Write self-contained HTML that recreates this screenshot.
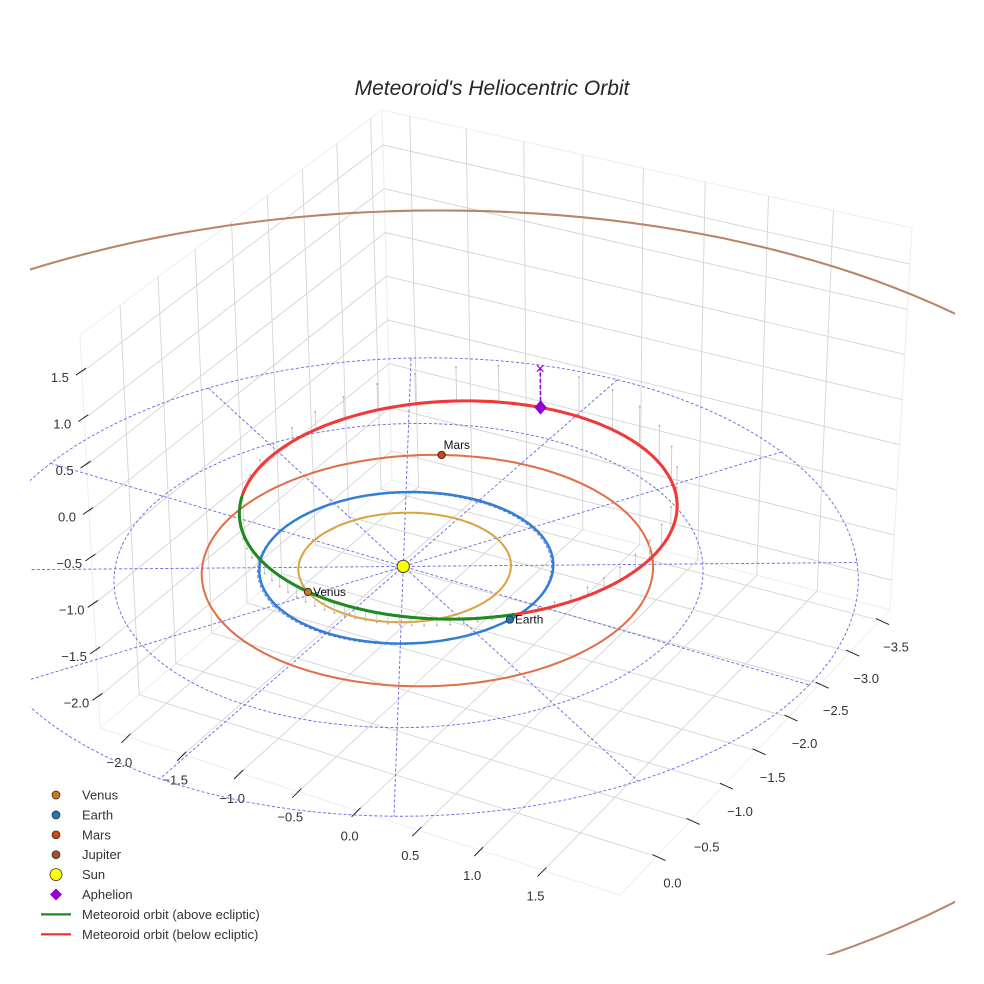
<!DOCTYPE html>
<html><head><meta charset="utf-8"><style>
html,body{margin:0;padding:0;background:#fff;width:984px;height:984px;overflow:hidden;}
svg{display:block;font-family:"Liberation Sans",sans-serif;}
</style></head><body>
<svg id="chart" width="984" height="984" viewBox="0 0 984 984">
<defs><clipPath id="clip"><rect x="30" y="0" width="925" height="955"/></clipPath></defs>
<text x="492" y="95" text-anchor="middle" font-size="21" font-style="italic" fill="#262626">Meteoroid's Heliocentric Orbit</text>
<g id="grid"></g>
<g id="ticks"></g>
<g clip-path="url(#clip)"><g id="plot" transform="matrix(1.028 0 0 1.027 2 -5.3)"></g></g>
<g id="legend"></g>
</svg>
<script>
// ---- axis data ----
const xTicks = [-2.0,-1.5,-1.0,-0.5,0.0,0.5,1.0,1.5];
const yTicks = [-3.5,-3.0,-2.5,-2.0,-1.5,-1.0,-0.5,0.0];
const zTicks = [-2.0,-1.5,-1.0,-0.5,0.0,0.5,1.0,1.5];
const xLim = [-2.25, 2.09];
const yLim = [-3.67, 0.52];
const zLim = [-2.33, 1.90];
// ---- planet data ----
const planetNames = ["Venus","Earth","Mars","Jupiter"];
const planetA = [0.723, 1.0, 1.53, 5.3];
const planetE = [0.0068, 0.0167, 0.0934, 0.0484];
const planetPeriLon = [131, 103, 145, 14.7];
const planetLon = [123, 14, 249, null];
const planetOrbitColors = ["#d9a441","#2f7fd6","#e0704a","#b9846a"];
const planetMarkerColors = ["#c9791c","#1f77b4","#cc4a10","#a0522d"];
// ---- meteoroid orbit elements ----
const metA = [1.86];
const metE = [0.6];
const metInc = [8.7];
const metNode = [10];
const metArgPeri = [69];
// ---- ecliptic reference grid ----
const ringRadii = [1, 2, 3];
const spokeAngles = [0,30,60,90,120,150];

function solveH(src, dst){
  const A=[],b=[];
  for(let i=0;i<4;i++){const [u,v]=src[i],[X,Y]=dst[i];
    A.push([u,v,1,0,0,0,-u*X,-v*X]);b.push(X);
    A.push([0,0,0,u,v,1,-u*Y,-v*Y]);b.push(Y);}
  const n=8;
  for(let c=0;c<n;c++){let p=c;for(let r=c+1;r<n;r++)if(Math.abs(A[r][c])>Math.abs(A[p][c]))p=r;
    [A[c],A[p]]=[A[p],A[c]];[b[c],b[p]]=[b[p],b[c]];
    for(let r=0;r<n;r++){if(r===c)continue;const f=A[r][c]/A[c][c];for(let k=c;k<n;k++)A[r][k]-=f*A[c][k];b[r]-=f*b[c];}}
  const h=b.map((v,i)=>v/A[i][i]);
  return (u,v)=>{const d=h[6]*u+h[7]*v+1;return [(h[0]*u+h[1]*v+h[2])/d,(h[3]*u+h[4]*v+h[5])/d];};
}
const uv=[[0,0],[0,1],[1,1],[1,0]];
const Hf=solveH(uv,[[392,480],[100,728],[620,895],[890,610]]);
const Ht=solveH(uv,[[382,110],[80,335],[623,490],[912,228]]);
function P(x,y,z){
  const u=(x-xLim[0])/(xLim[1]-xLim[0]), v=(y-yLim[0])/(yLim[1]-yLim[0]), w=(z-zLim[0])/(zLim[1]-zLim[0]);
  const f=Hf(u,v), t=Ht(u,v);
  return [f[0]+(t[0]-f[0])*w, f[1]+(t[1]-f[1])*w];
}
const NS="http://www.w3.org/2000/svg";
function mk(tag,attrs,parent){const e=document.createElementNS(NS,tag);for(const k in attrs)e.setAttribute(k,attrs[k]);parent.appendChild(e);return e;}
function pathD(pts){return pts.map((p,i)=>(i?"L":"M")+p[0].toFixed(1)+" "+p[1].toFixed(1)).join("");}
const grid=document.getElementById('grid'),ticks=document.getElementById('ticks'),plot=document.getElementById('plot'),legend=document.getElementById('legend');
const gridStyle={stroke:"#d4d4d4","stroke-width":0.9,fill:"none"};

const [x0,x1]=xLim,[y0,y1]=yLim,[z0,z1]=zLim;
let el;
el=mk('path',Object.assign({d:pathD([P(x0,y0,z0),P(x0,y1,z0),P(x0,y1,z1),P(x0,y0,z1)])+"Z"},{fill:"#fff",stroke:"#eee"}),grid);

el=mk('path',Object.assign({d:pathD([P(x0,y0,z0),P(x1,y0,z0),P(x1,y0,z1),P(x0,y0,z1)])+"Z"},{fill:"#fff",stroke:"#eee"}),grid);

el=mk('path',Object.assign({d:pathD([P(x0,y0,z0),P(x1,y0,z0),P(x1,y1,z0),P(x0,y1,z0)])+"Z"},{fill:"#fff",stroke:"#eee"}),grid);

xTicks.forEach(x=>{
  el=mk('path',Object.assign({d:pathD([P(x,y1,z0),P(x,y0,z0),P(x,y0,z1)])},gridStyle),grid);
  
});
yTicks.forEach(y=>{
  el=mk('path',Object.assign({d:pathD([P(x1,y,z0),P(x0,y,z0),P(x0,y,z1)])},gridStyle),grid);
  
});
zTicks.forEach(z=>{
  el=mk('path',Object.assign({d:pathD([P(x0,y1,z),P(x0,y0,z),P(x1,y0,z)])},gridStyle),grid);
  
});
function fmt(v){return (v<0?"\u2212":"")+Math.abs(v).toFixed(1);}
xTicks.forEach(x=>{const p=P(x,y1,z0);
  el=mk('line',{x1:p[0]-6,y1:p[1]+6,x2:p[0]+3,y2:p[1]-3,stroke:"#222","stroke-width":1},ticks);
  
  el=mk('text',{x:p[0]-8,y:p[1]+30,"text-anchor":"middle","font-size":13,fill:"#333"},ticks);el.textContent=fmt(x);
  
});
yTicks.forEach(y=>{const p=P(x1,y,z0);
  el=mk('line',{x1:p[0]-4,y1:p[1]-2,x2:p[0]+9,y2:p[1]+4,stroke:"#222","stroke-width":1},ticks);
  
  el=mk('text',{x:p[0]+16,y:p[1]+31,"text-anchor":"middle","font-size":13,fill:"#333"},ticks);el.textContent=fmt(y);
  
});
zTicks.forEach(z=>{const p=P(x0,y1,z);
  el=mk('line',{x1:p[0]-6,y1:p[1]+3,x2:p[0]+4,y2:p[1]-4,stroke:"#222","stroke-width":1},ticks);
  
  el=mk('text',{x:p[0]-22,y:p[1]+10,"text-anchor":"middle","font-size":13,fill:"#333"},ticks);el.textContent=fmt(z);
  
});

const dash={stroke:"#6b6be0","stroke-width":0.9,fill:"none","stroke-dasharray":"3,2"};
ringRadii.forEach(r=>{const pts=[];for(let t=0;t<=360;t+=3){const a=t*Math.PI/180;pts.push(P(r*Math.cos(a),r*Math.sin(a),0));}
  el=mk('path',Object.assign({d:pathD(pts)},dash),plot);
  });
const Rmax=Math.max(...ringRadii);
spokeAngles.forEach(d=>{const a=d*Math.PI/180;
  el=mk('path',Object.assign({d:pathD([P(-Rmax*Math.cos(a),-Rmax*Math.sin(a),0),P(Rmax*Math.cos(a),Rmax*Math.sin(a),0)])},dash),plot);
  });

function planetPos(i,lon){const a=planetA[i],e=planetE[i],nu=(lon-planetPeriLon[i])*Math.PI/180;
  const r=a*(1-e*e)/(1+e*Math.cos(nu)),L=lon*Math.PI/180;return [r*Math.cos(L),r*Math.sin(L),0];}
planetNames.forEach((n,i)=>{const pts=[];for(let t=0;t<=360;t+=2){const q=planetPos(i,t);pts.push(P(q[0],q[1],q[2]));}
  el=mk('path',{d:pathD(pts),stroke:planetOrbitColors[i],"stroke-width":n==="Earth"?2.4:2,fill:"none"},plot);
  });

const inc=metInc[0]*Math.PI/180,Om=metNode[0]*Math.PI/180,w=metArgPeri[0]*Math.PI/180;
function metPos(nuDeg){const nu=nuDeg*Math.PI/180,a=metA[0],e=metE[0];const r=a*(1-e*e)/(1+e*Math.cos(nu));const u=w+nu;
  return [r*(Math.cos(Om)*Math.cos(u)-Math.sin(Om)*Math.sin(u)*Math.cos(inc)),
          r*(Math.sin(Om)*Math.cos(u)+Math.cos(Om)*Math.sin(u)*Math.cos(inc)),
          r*Math.sin(u)*Math.sin(inc)];}
for(let t=0;t<360;t+=6){const q=metPos(t);const a=P(q[0],q[1],q[2]),b=P(q[0],q[1],0);
  el=mk('line',{x1:a[0],y1:a[1],x2:b[0],y2:b[1],stroke:"#c8c8c8","stroke-width":0.8},plot);
  
  el=mk('circle',{cx:b[0],cy:b[1],r:0.9,fill:"#aaa"},plot);
  }
let above=[],below=[];
for(let t=-180;t<=180;t+=1){const q=metPos(t);(q[2]>=0?above:below).push({t,p:P(q[0],q[1],q[2])});}
function segs(arr){const out=[];let cur=[];arr.forEach((o,i)=>{if(i&&o.t-arr[i-1].t>1){out.push(cur);cur=[];}cur.push(o.p);});if(cur.length)out.push(cur);return out;}
segs(below).forEach(s=>{el=mk('path',{d:pathD(s),stroke:"#f03a3a","stroke-width":3,fill:"none","stroke-linecap":"round"},plot);
  });
segs(above).forEach(s=>{el=mk('path',{d:pathD(s),stroke:"#1f8a1f","stroke-width":3,fill:"none","stroke-linecap":"round"},plot);
  });
const ap=metPos(180),apP=P(ap[0],ap[1],ap[2]),ap0=P(ap[0],ap[1],0);
el=mk('line',{x1:apP[0],y1:apP[1],x2:ap0[0],y2:ap0[1],stroke:"#9400d3","stroke-width":1.5,"stroke-dasharray":"4,2"},plot);

el=mk('text',{x:ap0[0],y:ap0[1]+5,"text-anchor":"middle","font-size":16,fill:"#9400d3"},plot);el.textContent="\u00d7";

el=mk('path',{d:`M${apP[0]} ${apP[1]-7}L${apP[0]+6} ${apP[1]}L${apP[0]} ${apP[1]+7}L${apP[0]-6} ${apP[1]}Z`,fill:"#9400d3"},plot);

const s=P(0,0,0);
el=mk('circle',{cx:s[0],cy:s[1],r:6,fill:"#ffff00",stroke:"#444","stroke-width":1},plot);

planetNames.forEach((n,i)=>{if(planetLon[i]===null)return;const q=planetPos(i,planetLon[i]),p=P(q[0],q[1],q[2]);
  el=mk('circle',{cx:p[0],cy:p[1],r:3.6,fill:planetMarkerColors[i],stroke:"#222","stroke-width":0.8},plot);
  
  const lx=n==="Mars"?p[0]+2:p[0]+5,ly=n==="Mars"?p[1]-6:p[1]+4;
  el=mk('text',{x:lx,y:ly,"font-size":11.5,fill:"#111"},plot);el.textContent=n;
  });

const legLabels=["Venus","Earth","Mars","Jupiter","Sun","Aphelion","Meteoroid orbit (above ecliptic)","Meteoroid orbit (below ecliptic)"];
legLabels.forEach((l,i)=>{const y=795+i*19.9;
  if(i<4){el=mk('circle',{cx:56,cy:y,r:4,fill:planetMarkerColors[i],stroke:"#222","stroke-width":0.7},legend);}
  else if(i===4){el=mk('circle',{cx:56,cy:y,r:6,fill:"#ffff00",stroke:"#333","stroke-width":0.8},legend);}
  else if(i===5){el=mk('path',{d:`M56 ${y-6}L62 ${y}L56 ${y+6}L50 ${y}Z`,fill:"#9400d3"},legend);}
  else {el=mk('line',{x1:41,y1:y,x2:71,y2:y,stroke:i===6?"#1f8a1f":"#e83030","stroke-width":2.2},legend);}
  
  el=mk('text',{x:82,y:y+4.5,"font-size":13,fill:"#333"},legend);el.textContent=l;
  });
</script>
</body></html>
